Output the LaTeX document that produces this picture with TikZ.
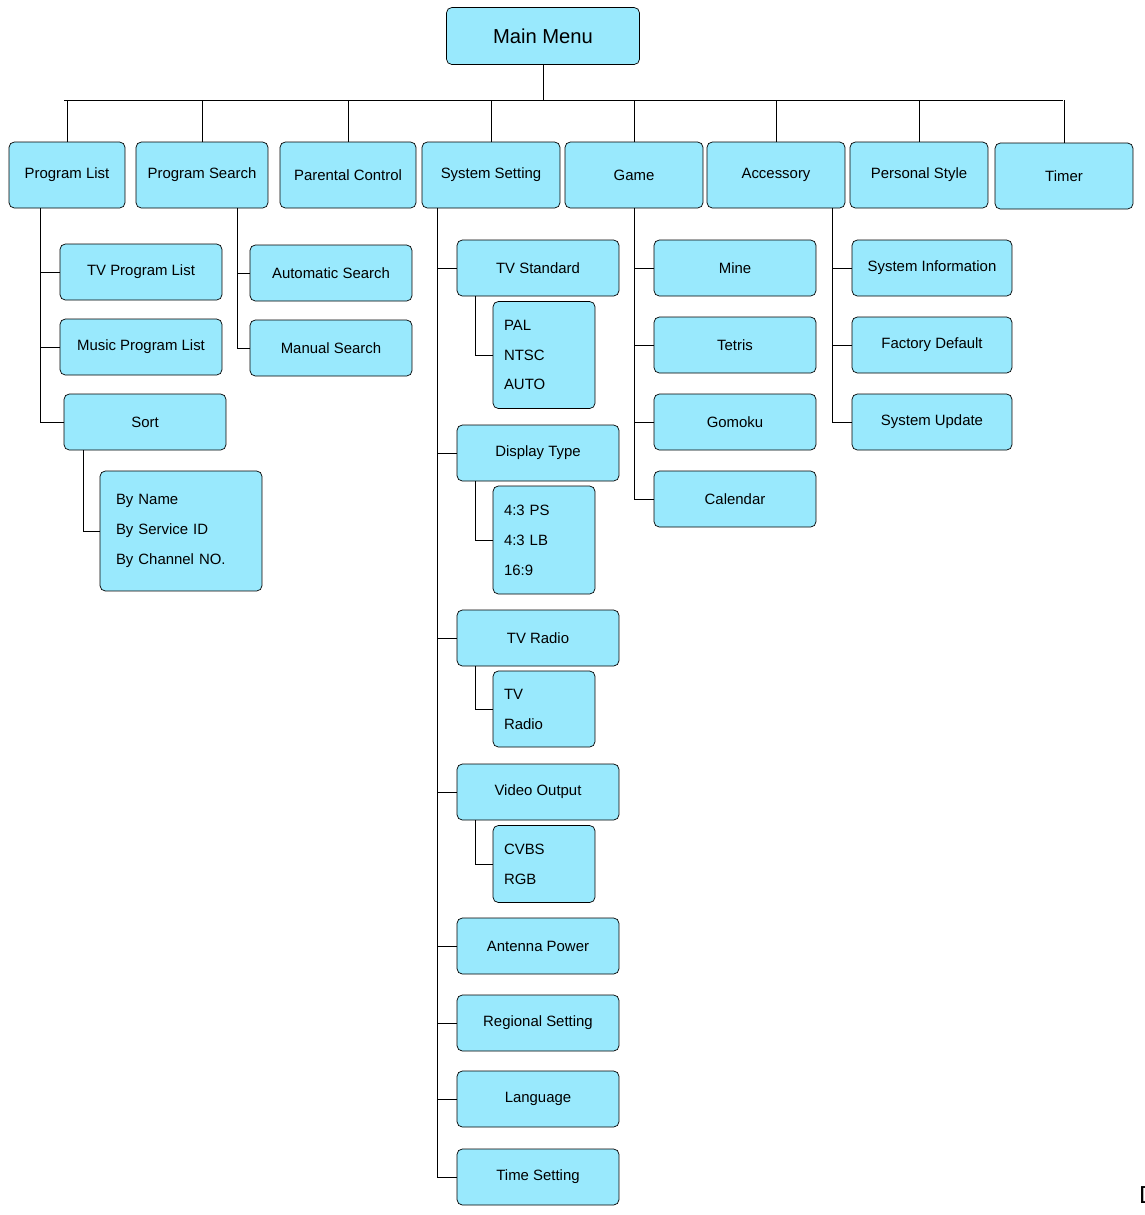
\documentclass[tikz,border=0pt]{standalone}
\usepackage{fontspec}
\setmainfont{Liberation Sans}
\usetikzlibrary{calc}
\begin{document}
\begin{tikzpicture}[x=0.02cm, y=-0.02cm, thin,
	box/.style={draw, rounded corners=3pt, fill=menucyan, font=\fontsize{8.5}{10}\selectfont,
		minimum width=3.24cm, minimum height=1.12cm, inner sep=0pt},
	top/.style={box, minimum width=2.76cm, minimum height=1.32cm},
	sub/.style={box, minimum width=2.04cm, align=left, text width=1.6cm, font=\fontsize{8.5}{17}\selectfont}]
	\definecolor{menucyan}{RGB}{153,233,253}
	\useasboundingbox (0,0) rectangle (1145,1215);
	\clip (0,0) rectangle (1145,1215);
	
	\node[box, minimum width=3.86cm, minimum height=1.14cm, font=\fontsize{11.5}{13}\selectfont] (main) at (543,36) {Main Menu};
	\coordinate (busL) at (64,100);
	\coordinate (busR) at (1063,100);
	
	% first level
	\node[top, minimum width=2.32cm] (plist) at (67,175) {Program List};
	\node[top, minimum width=2.64cm] (psearch) at (202,175) {Program Search};
	\node[top, minimum width=2.72cm] (parent) at (348,175) {Parental Control};
	\node[top] (sys) at (491,175) {System Setting};
	\node[top] (game) at (634,175) {Game};
	\node[top] (acc) at (776,175) {Accessory};
	\node[top] (pstyle) at (919,175) {Personal Style};
	\node[top] (timer) at (1064,176) {Timer};
	
	\draw (main) -- (main |- busL);
	\draw (busL) -- (busR);
	\foreach \n in {plist,psearch,parent,sys,game,acc,pstyle,timer}
		\draw (\n.north) -- (\n.north |- busL);
	
	% Program List
	\node[box] (tvpl) at (141,272) {TV Program List};
	\node[box] (musicpl) at (141,347) {Music Program List};
	\node[box] (sort) at (145,422) {Sort};
	\node[sub, minimum width=3.24cm, text width=2.6cm, minimum height=2.4cm] (sortsub) at (181,531) {By Name\\By Service ID\\By Channel NO.};
	\draw ($(plist.south)+(-27,0)$) |- (sort.west);
	\foreach \n in {tvpl,musicpl}
		\draw (\n.west) -- ++(-20,0);
	\draw ($(sort.south)+(-62,0)$) |- (sortsub.west);
	
	% Program Search
	\node[box] (autos) at (331,273) {Automatic Search};
	\node[box] (mans) at (331,348) {Manual Search};
	\draw ($(psearch.south)+(35,0)$) |- (mans.west);
	\draw (autos.west) -- ++(-13,0);
	
	% System Setting
	\node[box] (tvstd) at (538,268) {TV Standard};
	\node[sub, minimum height=2.14cm] (tvstdsub) at (544,355) {PAL\\NTSC\\AUTO};
	\node[box] (disp) at (538,453) {Display Type};
	\node[sub, minimum height=2.16cm] (dispsub) at (544,540) {4:3 PS\\4:3 LB\\16:9};
	\node[box] (tvradio) at (538,638) {TV Radio};
	\node[sub, minimum height=1.52cm] (tvradiosub) at (544,709) {TV\\Radio};
	\node[box] (vout) at (538,792) {Video Output};
	\node[sub, minimum height=1.54cm] (voutsub) at (544,864) {CVBS\\RGB};
	\node[box] (ant) at (538,946) {Antenna Power};
	\node[box] (region) at (538,1023) {Regional Setting};
	\node[box] (lang) at (538,1099) {Language};
	\node[box] (timeset) at (538,1177) {Time Setting};
	\draw ($(sys.south)+(-54,0)$) |- (timeset.west);
	\foreach \n in {tvstd,disp,tvradio,vout,ant,region,lang}
		\draw (\n.west) -- ++(-20,0);
	\foreach \n in {tvstd,disp,tvradio,vout}
		\draw ($(\n.south)+(-63,0)$) |- (\n sub.west);
	
	% Game
	\node[box] (mine) at (735,268) {Mine};
	\node[box] (tetris) at (735,345) {Tetris};
	\node[box] (gomoku) at (735,422) {Gomoku};
	\node[box] (cal) at (735,499) {Calendar};
	\draw (game.south) |- (cal.west);
	\foreach \n in {mine,tetris,gomoku}
		\draw (\n.west) -- ++(-20,0);
	
	% Accessory
	\node[box, minimum width=3.2cm] (sysinfo) at (932,268) {System Information};
	\node[box, minimum width=3.2cm] (factory) at (932,345) {Factory Default};
	\node[box, minimum width=3.2cm] (sysup) at (932,422) {System Update};
	\draw ($(acc.south)+(56,0)$) |- (sysup.west);
	\foreach \n in {sysinfo,factory}
		\draw (\n.west) -- ++(-20,0);
	
	\node[font=\fontsize{14}{16}\selectfont, anchor=west] (cut) at (1133,1195) {D};
\end{tikzpicture}
\end{document}
